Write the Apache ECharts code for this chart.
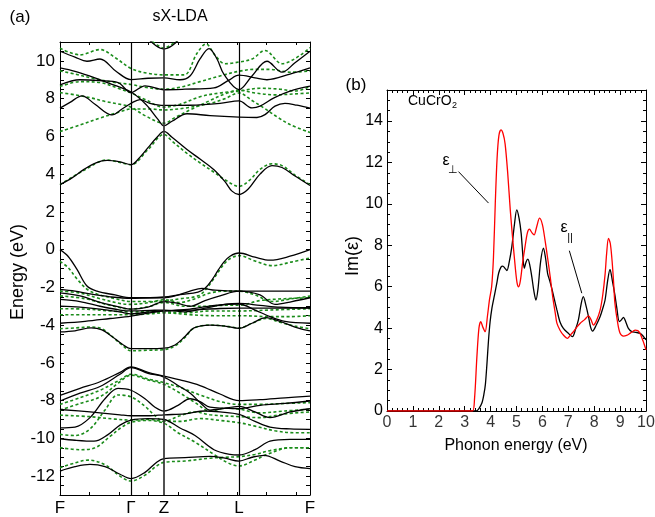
<!DOCTYPE html>
<html>
<head>
<meta charset="utf-8">
<script src="https://cdn.jsdelivr.net/npm/echarts@6/dist/echarts.min.js"></script>
<style>
  html, body { margin: 0; padding: 0; background: #fff; }
  #chart { width: 655px; height: 517px; }
</style>
</head>
<body>
<div id="chart"></div>
<script>
// ---- (a) band structure: k-path coordinate (path units) vs energy (eV) ----
const kPoints = [0, 71, 104, 179, 250];
const kLabels = ['F', 'Γ', 'Z', 'L', 'F'];
const kTicks = [29.5, 59, 88.5, 118, 147.5, 177, 206.5, 236];

// sX-LDA bands (solid black)
const sxC1 = [[0,3.44],[12,3.8],[24,4.25],[36,4.6],[47,4.73],[60,4.65],[71,4.5],[80,4.9],[88,5.4],[97,5.95],[104,6.26],[112,5.95],[127,5.3],[140,4.8],[154,4.23],[165,3.6],[172,3.1],[179,2.92],[188,3.2],[200,4.0],[212,4.45],[222,4.35],[235,3.9],[250,3.4]];
const sxC2 = [[0,9.63],[15,9.45],[30,9.19],[50,8.8],[71,8.35],[86,7.69],[98,6.9],[104,6.56],[112,6.8],[127,7.2],[150,7.1],[179,7.02],[197,7.0],[205,7.15],[215,7.6],[225,7.75],[237,7.65],[250,7.5]];
const sxC3 = [[0,7.5],[10,7.8],[22,8.15],[35,7.7],[52,7.14],[62,7.45],[71,7.75],[80,7.95],[90,7.75],[104,7.64],[130,7.65],[160,7.75],[179,7.88],[192,7.51],[200,7.6],[214,8.04],[230,8.4],[250,8.66]];
const sxC4 = [[0,8.73],[20,9.0],[40,8.95],[58,8.85],[71,8.32],[85,8.68],[104,8.47],[125,8.5],[154,8.57],[168,8.95],[179,9.24],[195,9.1],[207,9.0],[230,9.3],[250,9.63]];
const sxC5 = [[0,10.51],[15,10.2],[27,9.98],[40,10.1],[56,9.45],[71,9.01],[88,9.08],[104,9.1],[120,9.0],[130,9.2],[140,10.1],[149,10.65],[157,10.1],[164,9.28],[179,8.48],[192,9.2],[207,9.98],[222,9.4],[235,9.9],[250,10.51]];
const sxC6 = [[86,11.3],[96,10.8],[104,10.63],[112,10.8],[122,11.3]];
const sxV1 = [[0,0],[8,-0.35],[17,-1.05],[27,-1.93],[37,-2.2],[55,-2.4],[71,-2.55],[90,-2.55],[104,-2.51],[120,-2.38],[138,-2.25],[145,-2.05],[152,-1.6],[158,-1.1],[164,-0.65],[170,-0.35],[179,-0.18],[195,-0.4],[210,-0.56],[230,-0.35],[250,0]];
const sxV2 = [[0,-2.11],[15,-2.2],[30,-2.35],[50,-2.5],[71,-2.58],[90,-2.55],[104,-2.55],[115,-2.45],[130,-2.2],[142,-2.05],[155,-2.15],[179,-2.2],[215,-2.2],[250,-2.2]];
const sxV3 = [[0,-2.29],[20,-2.45],[40,-2.8],[60,-3.05],[71,-3.15],[88,-3.05],[104,-2.75],[118,-2.85],[130,-3.0],[145,-2.7],[160,-2.45],[179,-2.2],[200,-2.4],[215,-2.9],[232,-2.75],[250,-2.55]];
const sxV4 = [[0,-2.64],[20,-2.75],[40,-3.0],[60,-3.2],[71,-3.25],[90,-3.22],[104,-3.2],[125,-3.3],[145,-3.1],[165,-2.9],[179,-2.85],[200,-2.95],[220,-3.05],[250,-3.08]];
const sxV5 = [[0,-2.99],[20,-3.05],[40,-3.15],[60,-3.3],[71,-3.4],[90,-3.3],[104,-3.25],[130,-3.2],[160,-3.12],[179,-3.1],[210,-3.1],[250,-3.1]];
const sxV6 = [[0,-3.9],[25,-3.8],[50,-3.65],[71,-3.52],[90,-3.35],[104,-3.25],[130,-3.15],[155,-2.95],[179,-2.88],[195,-3.2],[210,-3.55],[225,-3.8],[250,-3.9]];
const sxV7 = [[0,-4.36],[15,-4.3],[31,-4.15],[42,-4.25],[52,-4.6],[62,-5.0],[71,-5.25],[88,-5.25],[104,-5.22],[115,-5.05],[125,-4.6],[134,-4.15],[150,-4.0],[165,-4.05],[179,-4.17],[192,-3.9],[206,-3.6],[220,-3.8],[235,-4.1],[250,-4.31]];
const sxL1 = [[0,-7.72],[20,-7.35],[40,-7.0],[60,-6.5],[71,-6.21],[88,-6.5],[104,-6.7],[120,-6.9],[140,-7.2],[160,-7.65],[179,-8.0],[200,-7.95],[225,-7.85],[250,-7.76]];
const sxL2 = [[0,-8.02],[20,-7.6],[40,-7.25],[60,-6.6],[71,-6.25],[88,-6.55],[104,-6.75],[118,-7.2],[130,-7.6],[142,-8.2],[150,-8.5],[160,-8.45],[179,-8.3],[195,-8.6],[210,-8.9],[230,-8.6],[250,-8.43]];
const sxL3 = [[0,-9.44],[15,-9.4],[30,-8.9],[45,-7.9],[58,-7.35],[71,-7.45],[85,-7.9],[95,-8.35],[104,-8.55],[118,-8.25],[130,-7.9],[140,-8.05],[150,-8.35],[165,-8.4],[179,-8.43],[200,-8.25],[225,-8.15],[250,-8.02]];
const sxL4 = [[0,-8.47],[30,-8.6],[60,-8.75],[71,-8.8],[90,-8.8],[104,-8.75],[125,-8.7],[145,-8.55],[160,-8.6],[179,-8.73],[195,-9.1],[210,-9.4],[230,-9.5],[250,-9.52]];
const sxL5 = [[0,-10.02],[15,-10.1],[34,-10.15],[48,-9.8],[60,-9.3],[71,-9.03],[88,-8.95],[104,-9.0],[120,-9.45],[135,-9.85],[154,-10.6],[170,-10.85],[179,-10.88],[195,-10.6],[210,-10.15],[230,-10.05],[250,-10.05]];
const sxL6 = [[0,-11.73],[15,-11.5],[30,-11.38],[45,-11.5],[60,-11.9],[71,-12.13],[85,-11.8],[97,-11.25],[104,-11.07],[125,-11.02],[150,-10.95],[165,-11.05],[179,-11.2],[192,-11.0],[204,-10.9],[220,-11.2],[235,-11.5],[250,-11.6]];

// LDA bands (dashed green)
const ldaC1 = [[0,3.44],[24,4.2],[47,4.75],[60,4.62],[71,4.5],[88,5.3],[104,6.1],[112,5.75],[127,5.1],[140,4.6],[154,4.1],[165,3.7],[179,3.35],[190,3.7],[200,4.25],[212,4.55],[222,4.45],[235,3.95],[250,3.44]];
const ldaC2 = [[0,6.26],[20,6.6],[40,6.97],[60,7.3],[71,7.45],[90,7.45],[104,7.4],[125,7.5],[150,7.75],[165,8.0],[179,8.3],[192,7.9],[204,7.5],[218,7.0],[230,6.63],[250,6.2]];
const ldaC3 = [[0,8.32],[15,8.2],[30,8.05],[45,7.85],[60,7.7],[71,7.55],[85,7.1],[104,6.7],[115,7.0],[130,7.4],[150,7.9],[165,8.25],[179,8.45],[195,8.3],[215,8.2],[235,8.25],[250,8.3]];
const ldaC4 = [[0,8.64],[20,8.9],[40,8.85],[58,8.55],[71,8.3],[85,7.95],[104,7.55],[120,7.7],[140,8.1],[160,8.3],[179,8.4],[200,8.55],[220,8.5],[235,8.4],[250,8.64]];
const ldaC5 = [[0,9.47],[15,9.3],[35,9.05],[55,8.85],[71,8.75],[85,8.6],[104,8.5],[120,8.6],[140,8.9],[160,9.2],[179,9.45],[195,9.55],[210,9.55],[230,9.4],[250,9.47]];
const ldaC6 = [[0,10.67],[20,10.32],[40,10.6],[56,10.14],[71,9.6],[87,9.35],[104,9.26],[124,9.26],[137,10.4],[146,10.9],[155,10.3],[165,9.85],[179,9.94],[192,10.1],[205,10.55],[222,9.85],[250,10.7]];
const ldaC7 = [[88,11.2],[97,10.85],[104,10.68],[111,10.85],[120,11.2]];
const ldaV1 = [[0,-0.62],[8,-0.95],[17,-1.55],[27,-2.1],[37,-2.35],[55,-2.6],[71,-2.75],[90,-2.75],[104,-2.72],[120,-2.6],[138,-2.45],[146,-2.1],[153,-1.6],[160,-1.05],[166,-0.65],[172,-0.42],[179,-0.32],[195,-0.6],[212,-0.85],[232,-0.65],[250,-0.44]];
const ldaV2 = [[0,-2.2],[20,-2.3],[40,-2.6],[60,-2.85],[71,-2.9],[90,-2.8],[104,-2.65],[120,-2.8],[135,-2.6],[150,-2.3],[165,-2.2],[179,-2.2],[195,-2.4],[212,-2.75],[232,-2.6],[250,-2.46]];
const ldaV3 = [[0,-2.45],[25,-2.6],[50,-2.95],[71,-3.15],[90,-3.0],[104,-2.8],[125,-3.0],[145,-3.0],[165,-2.95],[179,-2.95],[200,-2.7],[225,-2.6],[250,-2.55]];
const ldaV4 = [[0,-3.13],[25,-3.15],[50,-3.25],[71,-3.3],[90,-3.3],[104,-3.3],[125,-3.35],[150,-3.25],[179,-3.25],[210,-3.2],[250,-3.13]];
const ldaV5 = [[0,-3.45],[25,-3.45],[50,-3.45],[71,-3.45],[90,-3.4],[104,-3.35],[130,-3.45],[155,-3.5],[179,-3.5],[210,-3.55],[230,-3.55],[250,-3.5]];
const ldaV6 = [[0,-4.19],[15,-4.15],[31,-4.1],[42,-4.2],[52,-4.6],[62,-5.05],[71,-5.36],[88,-5.33],[104,-5.3],[115,-5.1],[125,-4.65],[134,-4.15],[150,-4.0],[165,-4.05],[179,-4.15],[192,-3.9],[206,-3.65],[220,-3.85],[235,-4.05],[250,-4.19]];
const ldaL1 = [[0,-8.2],[20,-7.85],[40,-7.45],[60,-6.9],[71,-6.6],[88,-6.85],[104,-7.05],[120,-7.3],[140,-7.7],[160,-8.05],[179,-8.2],[200,-8.2],[225,-8.15],[250,-8.11]];
const ldaL2 = [[0,-8.5],[20,-8.15],[40,-7.8],[60,-7.0],[71,-6.65],[88,-6.9],[104,-7.14],[120,-7.6],[135,-8.1],[150,-8.55],[165,-8.4],[179,-8.45],[200,-8.65],[225,-8.55],[250,-8.45]];
const ldaL3 = [[0,-9.79],[15,-9.85],[30,-9.5],[45,-8.5],[58,-7.7],[71,-7.8],[85,-8.3],[95,-8.8],[104,-9.1],[120,-8.8],[135,-8.6],[150,-8.75],[179,-8.85],[200,-8.9],[225,-8.7],[250,-8.6]];
const ldaL4 = [[0,-8.77],[30,-8.85],[55,-8.98],[71,-9.03],[90,-9.0],[104,-9.1],[120,-9.1],[140,-8.95],[160,-9.05],[179,-9.17],[195,-9.35],[215,-9.6],[235,-9.7],[250,-9.7]];
const ldaL5 = [[0,-10.49],[20,-10.6],[35,-10.5],[50,-9.9],[62,-9.4],[71,-9.15],[88,-9.05],[104,-9.2],[118,-9.7],[135,-10.2],[154,-10.85],[168,-11.3],[179,-11.46],[195,-11.15],[207,-10.85],[230,-10.5],[250,-10.5]];
const ldaL6 = [[0,-11.55],[15,-11.3],[28,-11.15],[45,-11.4],[60,-12.0],[71,-12.26],[85,-11.95],[97,-11.45],[104,-11.27],[125,-11.2],[150,-11.05],[165,-11.0],[179,-10.97],[195,-10.85],[210,-10.65],[230,-10.5],[250,-10.5]];

const sxBands = [sxC1, sxC2, sxC3, sxC4, sxC5, sxC6, sxV1, sxV2, sxV3, sxV4, sxV5, sxV6, sxV7, sxL1, sxL2, sxL3, sxL4, sxL5, sxL6];
const ldaBands = [ldaC1, ldaC2, ldaC3, ldaC4, ldaC5, ldaC6, ldaC7, ldaV1, ldaV2, ldaV3, ldaV4, ldaV5, ldaV6, ldaL1, ldaL2, ldaL3, ldaL4, ldaL5, ldaL6];

// ---- (b) imaginary dielectric function of CuCrO2 vs photon energy (eV) ----
const energyTicks = [0, 1, 2, 3, 4, 5, 6, 7, 8, 9, 10];
const epsPerp = [[0,0],[1,0],[2,0],[3,0],[3.3,0],[3.38,0.6],[3.47,2.6],[3.55,4.0],[3.62,4.32],[3.7,4.05],[3.79,3.83],[3.88,4.6],[3.96,5.4],[4.04,6.0],[4.11,7.4],[4.18,10.0],[4.25,12.2],[4.32,13.3],[4.4,13.57],[4.48,13.4],[4.56,12.9],[4.66,11.5],[4.76,9.7],[4.86,8.2],[4.95,6.97],[5.02,6.2],[5.08,6.0],[5.15,6.3],[5.24,7.2],[5.33,7.94],[5.42,8.6],[5.5,8.78],[5.6,8.6],[5.68,8.5],[5.78,8.9],[5.89,9.31],[6.0,9.0],[6.1,8.26],[6.2,7.4],[6.3,6.49],[6.4,5.5],[6.5,4.7],[6.56,4.24],[6.68,3.9],[6.81,3.67],[6.97,3.51],[7.1,3.7],[7.2,3.83],[7.33,4.05],[7.46,4.24],[7.62,4.4],[7.78,4.59],[7.88,4.4],[7.97,4.15],[8.1,4.4],[8.23,4.88],[8.33,5.6],[8.42,6.6],[8.48,7.6],[8.55,8.34],[8.62,8.1],[8.68,7.4],[8.74,6.4],[8.8,5.2],[8.9,4.3],[9.0,3.75],[9.13,3.62],[9.25,3.65],[9.38,3.75],[9.5,3.85],[9.58,3.91],[9.68,3.88],[9.77,3.75],[9.88,3.4],[10,2.95]];
const epsPar = [[0,0],[1,0],[2,0],[3,0],[3.45,0],[3.55,0.12],[3.66,0.37],[3.74,0.8],[3.8,1.3],[3.86,2.3],[3.92,3.43],[3.98,4.3],[4.05,4.96],[4.15,5.6],[4.24,6.17],[4.31,6.65],[4.4,6.95],[4.47,7.0],[4.55,6.9],[4.63,6.78],[4.72,7.2],[4.82,7.94],[4.92,9.0],[5.01,9.71],[5.1,9.3],[5.18,8.58],[5.24,7.6],[5.3,6.89],[5.37,7.2],[5.44,7.33],[5.52,7.0],[5.59,6.49],[5.67,5.8],[5.75,5.36],[5.83,5.9],[5.93,7.2],[6.04,7.86],[6.12,7.4],[6.2,6.65],[6.28,6.3],[6.36,5.93],[6.46,5.4],[6.56,4.88],[6.68,4.3],[6.81,3.99],[7.0,3.75],[7.16,3.59],[7.28,3.95],[7.39,4.4],[7.5,5.2],[7.58,5.52],[7.68,5.1],[7.78,4.56],[7.86,4.05],[7.94,3.86],[8.08,4.15],[8.23,4.56],[8.33,4.95],[8.42,5.36],[8.52,6.3],[8.61,6.84],[8.7,6.3],[8.8,5.6],[8.87,5.0],[8.97,4.32],[9.05,4.4],[9.13,4.52],[9.22,4.3],[9.32,3.99],[9.45,3.83],[9.6,3.8],[9.77,3.75],[9.9,3.6],[10,3.43]];
// leader lines from the labels to the curves
const perpLeader = [[2.76,11.56],[3.92,10.04]];
const parLeader = [[7.04,7.74],[7.52,5.69]];

const FONT = '"Liberation Sans", Arial, sans-serif';
const BLACK = '#000';
const GREEN = '#1a8c1a';

const chart = echarts.init(document.getElementById('chart'), null, { renderer: 'canvas' });

function frameAxis(extra) {
  return Object.assign({
    axisLine: { show: true, onZero: false, lineStyle: { color: BLACK, width: 1 } },
    splitLine: { show: false },
    axisTick: { show: true, inside: true, length: 4, lineStyle: { color: BLACK } },
    axisLabel: { show: false }
  }, extra);
}

const series = [];
ldaBands.forEach(function (d) {
  series.push({
    type: 'line', xAxisIndex: 0, yAxisIndex: 0, data: d, smooth: 0.35,
    symbol: 'none', silent: true, z: 2,
    lineStyle: { color: GREEN, width: 1.6, type: [3, 2.4] }
  });
});
sxBands.forEach(function (d) {
  series.push({
    type: 'line', xAxisIndex: 0, yAxisIndex: 0, data: d, smooth: 0.35,
    symbol: 'none', silent: true, z: 3,
    lineStyle: { color: BLACK, width: 1.3 }
  });
});
// high-symmetry point separators
series.push({
  type: 'line', xAxisIndex: 0, yAxisIndex: 0, data: [], silent: true,
  markLine: {
    symbol: 'none', silent: true, animation: false,
    label: { show: false },
    lineStyle: { color: BLACK, width: 1.2, type: 'solid' },
    data: kPoints.slice(1, 4).map(function (k, i) {
      return { xAxis: k, lineStyle: i === 1 ? { width: 1.7, color: '#333' } : {} };
    })
  }
});
series.push({
  type: 'line', xAxisIndex: 2, yAxisIndex: 2, data: epsPar, smooth: 0.3,
  symbol: 'none', silent: true, z: 3, lineStyle: { color: BLACK, width: 1.3 }
});
series.push({
  type: 'line', xAxisIndex: 2, yAxisIndex: 2, data: epsPerp, smooth: 0.3,
  symbol: 'none', silent: true, z: 4, lineStyle: { color: '#ff0000', width: 1.3 }
});
series.push({
  type: 'line', xAxisIndex: 2, yAxisIndex: 2, data: perpLeader,
  symbol: 'none', silent: true, z: 5, lineStyle: { color: BLACK, width: 1 }
});
series.push({
  type: 'line', xAxisIndex: 2, yAxisIndex: 2, data: parLeader,
  symbol: 'none', silent: true, z: 5, lineStyle: { color: BLACK, width: 1 }
});
// photon-energy tick labels, placed under the axis at each integer value
series.push({
  type: 'scatter', xAxisIndex: 2, yAxisIndex: 2, silent: true, clip: false,
  data: energyTicks.map(function (v) { return [v, 0]; }),
  symbolSize: 1, itemStyle: { color: 'rgba(0,0,0,0)' },
  label: {
    show: true, position: 'bottom', distance: 3,
    color: BLACK, fontFamily: FONT, fontSize: 16,
    formatter: function (p) { return String(p.value[0]); }
  },
  labelLayout: { hideOverlap: false }
});

const option = {
  animation: false,
  backgroundColor: '#fff',
  textStyle: { fontFamily: FONT },
  grid: [
    { left: 60, right: 345, top: 42, bottom: 21 },
    { left: 387, right: 9, top: 90, bottom: 106 }
  ],
  xAxis: [
    frameAxis({
      gridIndex: 0, type: 'value', min: 0, max: 250, position: 'bottom',
      axisTick: { show: true, inside: true, length: 3, customValues: kTicks, lineStyle: { color: BLACK } },
      axisLabel: {
        show: true, customValues: kPoints, showMinLabel: true, showMaxLabel: true,
        color: BLACK, fontFamily: FONT, fontSize: 17, margin: 5,
        formatter: function (v) { const i = kPoints.indexOf(v); return i >= 0 ? kLabels[i] : ''; }
      }
    }),
    frameAxis({
      gridIndex: 0, type: 'value', min: 0, max: 250, position: 'top',
      axisTick: { show: true, inside: true, length: 3, customValues: kTicks, lineStyle: { color: BLACK } }
    }),
    frameAxis({
      gridIndex: 1, type: 'value', min: 0, max: 10, interval: 1, position: 'bottom',
      axisTick: { show: true, inside: true, length: 5, lineStyle: { color: BLACK } },
      minorTick: { show: true, splitNumber: 5, length: 3, lineStyle: { color: BLACK } }
    }),
    frameAxis({
      gridIndex: 1, type: 'value', min: 0, max: 10, interval: 1, position: 'top',
      axisTick: { show: true, inside: true, length: 5, lineStyle: { color: BLACK } },
      minorTick: { show: true, splitNumber: 5, length: 3, lineStyle: { color: BLACK } }
    })
  ],
  yAxis: [
    frameAxis({
      gridIndex: 0, type: 'value', min: -13, max: 11, interval: 0.5, position: 'left',
      axisTick: { show: true, inside: true, length: 4, lineStyle: { color: BLACK } },
      axisLabel: {
        show: true, interval: 0, color: BLACK, fontFamily: FONT, fontSize: 17, margin: 5,
        formatter: function (v) { return (Math.abs(v % 2) < 1e-9 && v >= -12 && v <= 10) ? String(v) : ''; }
      }
    }),
    frameAxis({
      gridIndex: 0, type: 'value', min: -13, max: 11, interval: 0.5, position: 'right',
      axisTick: { show: true, inside: true, length: 4, lineStyle: { color: BLACK } }
    }),
    frameAxis({
      gridIndex: 1, type: 'value', min: 0, max: 15.5, interval: 2, position: 'left',
      axisTick: { show: true, inside: true, length: 5, lineStyle: { color: BLACK } },
      minorTick: { show: true, splitNumber: 4, length: 3, lineStyle: { color: BLACK } },
      axisLabel: {
        show: true, interval: 0, color: BLACK, fontFamily: FONT, fontSize: 16, margin: 4,
        formatter: function (v) { return (v % 2 === 0) ? String(v) : ''; }
      }
    }),
    frameAxis({
      gridIndex: 1, type: 'value', min: 0, max: 15.5, interval: 2, position: 'right',
      axisTick: { show: true, inside: true, length: 5, lineStyle: { color: BLACK } },
      minorTick: { show: true, splitNumber: 4, length: 3, lineStyle: { color: BLACK } }
    })
  ],
  series: series,
  graphic: [
    { type: 'text', x: 20, y: 17, style: { text: '(a)', font: '17px ' + FONT, fill: BLACK, textAlign: 'center', textVerticalAlign: 'middle' } },
    { type: 'text', x: 180, y: 17, style: { text: 'sX-LDA', font: '16px ' + FONT, fill: BLACK, textAlign: 'center', textVerticalAlign: 'middle' } },
    { type: 'text', x: 18, y: 272, rotation: Math.PI / 2, style: { text: 'Energy (eV)', font: '18px ' + FONT, fill: BLACK, textAlign: 'center', textVerticalAlign: 'middle' } },
    { type: 'text', x: 356, y: 85, style: { text: '(b)', font: '17px ' + FONT, fill: BLACK, textAlign: 'center', textVerticalAlign: 'middle' } },
    { type: 'text', x: 408, y: 101, style: { text: 'CuCrO', font: '14px ' + FONT, fill: BLACK, textAlign: 'left', textVerticalAlign: 'middle' } },
    { type: 'text', x: 452, y: 106, style: { text: '2', font: '9px ' + FONT, fill: BLACK, textAlign: 'left', textVerticalAlign: 'middle' } },
    { type: 'text', x: 353, y: 256, rotation: Math.PI / 2, style: { text: 'Im(ε)', font: '18px ' + FONT, fill: BLACK, textAlign: 'center', textVerticalAlign: 'middle' } },
    { type: 'text', x: 516, y: 446, style: { text: 'Phonon energy (eV)', font: '16px ' + FONT, fill: BLACK, textAlign: 'center', textVerticalAlign: 'middle' } },
    { type: 'text', x: 446, y: 161, style: { text: 'ε', font: '16px ' + FONT, fill: BLACK, textAlign: 'center', textVerticalAlign: 'middle' } },
    { type: 'text', x: 453, y: 170, style: { text: '⊥', font: '11px ' + FONT, fill: BLACK, textAlign: 'center', textVerticalAlign: 'middle' } },
    { type: 'text', x: 564, y: 228, style: { text: 'ε', font: '16px ' + FONT, fill: BLACK, textAlign: 'center', textVerticalAlign: 'middle' } },
    { type: 'text', x: 570, y: 238, style: { text: '||', font: '11px ' + FONT, fill: BLACK, textAlign: 'center', textVerticalAlign: 'middle' } }
  ]
};

chart.setOption(option);
</script>
</body>
</html>
